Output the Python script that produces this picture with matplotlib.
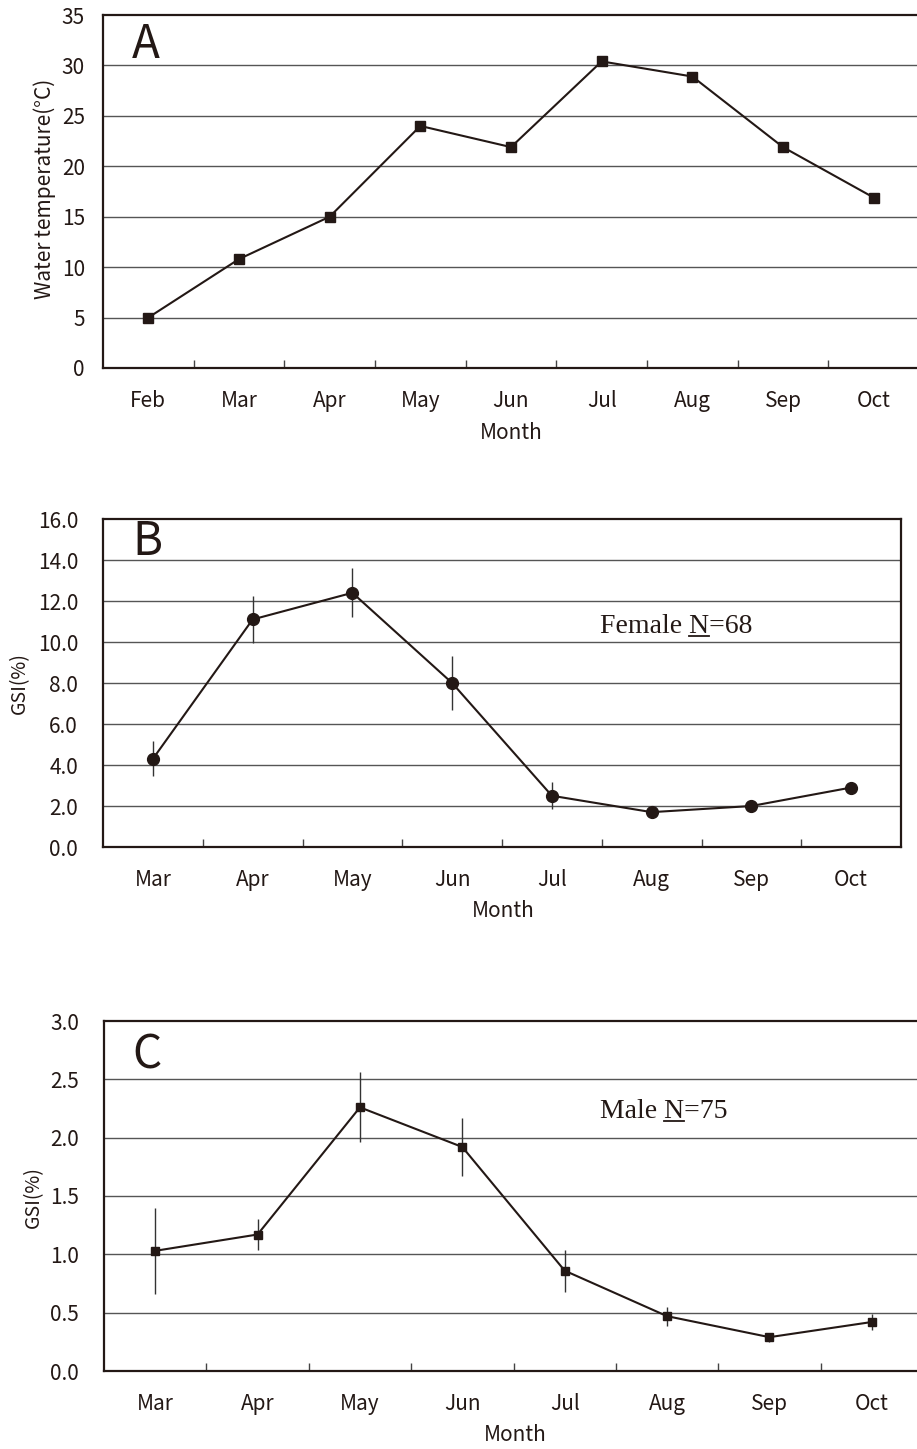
# seasonal water temperature and GSI figure (panels A-C)
import numpy as np
import matplotlib
matplotlib.use('Agg')
from matplotlib import pyplot as plt
from matplotlib.lines import Line2D

# data
months_a = ['Feb', 'Mar', 'Apr', 'May', 'Jun', 'Jul', 'Aug', 'Sep', 'Oct']
water_temp = [5.0, 10.8, 15.0, 24.0, 21.9, 30.4, 28.9, 21.9, 16.9]

months_bc = ['Mar', 'Apr', 'May', 'Jun', 'Jul', 'Aug', 'Sep', 'Oct']
gsi_female = [4.3, 11.1, 12.4, 8.0, 2.5, 1.7, 2.0, 2.9]
gsi_female_err = [0.85, 1.15, 1.2, 1.3, 0.65, 0.2, 0.2, 0.2]
gsi_male = [1.03, 1.17, 2.26, 1.92, 0.86, 0.47, 0.29, 0.42]
gsi_male_err = [0.37, 0.13, 0.30, 0.25, 0.18, 0.08, 0.04, 0.07]

W, H = 917, 1449
INK = '#231815'
GRID = '#555555'
SANS = ['Noto Sans CJK JP', 'DejaVu Sans']
SERIF = 'Liberation Serif'

plt.rcParams['font.family'] = SANS

fig = plt.figure(figsize=(W / 100, H / 100), dpi=100)


def box(l, t, r, b):
    # pixel box -> figure fraction
    return [l / W, 1 - b / H, (r - l) / W, (b - t) / H]


def fx(x):
    return x / W


def fy(y):
    return 1 - y / H


def setup(ax, labels, ymax, ystep, fmt, ypad):
    n = len(labels)
    ax.set_xlim(0, n)
    ax.set_ylim(0, ymax)
    ax.set_xticks(np.arange(1, n))
    ax.set_xticks(np.arange(n) + 0.5, minor=True)
    ax.set_xticklabels([])
    ax.set_xticklabels(labels, minor=True)
    ax.tick_params(axis='x', which='major', direction='in', length=6, width=1.0,
                   color='#444444', labelbottom=False)
    ax.tick_params(axis='x', which='minor', length=0, pad=16, labelsize=15, labelcolor=INK)
    yt = np.arange(0, ymax + ystep / 2, ystep)
    ax.set_yticks(yt)
    ax.set_yticklabels([fmt % v for v in yt])
    ax.tick_params(axis='y', length=0, pad=ypad, labelsize=15, labelcolor=INK)
    for v in yt[1:-1]:
        ax.axhline(v, color=GRID, lw=1.0, zorder=1)
    for s in ax.spines.values():
        s.set_color(INK)
        s.set_linewidth(1.6)


def underlined(x, y, before, und, after, size):
    # text with one underlined piece, x,y in pixels (left, baseline)
    full = before + und + after
    t = fig.text(fx(x), fy(y), full, family=SERIF, fontsize=size, color=INK,
                 ha='left', va='baseline')
    r = fig.canvas.get_renderer()
    m1 = fig.text(0, 0, before + und, family=SERIF, fontsize=size)
    m2 = fig.text(0, 0, und, family=SERIF, fontsize=size)
    w1 = m1.get_window_extent(r).width
    w2 = m2.get_window_extent(r).width
    m1.remove()
    m2.remove()
    fig.add_artist(Line2D([fx(x + w1 - w2), fx(x + w1)], [fy(y + 3), fy(y + 3)],
                          color=INK, lw=1.3, transform=fig.transFigure))
    return t


# A: water temperature
ax1 = fig.add_axes(box(103, 15, 919, 368))
setup(ax1, months_a, 35, 5, '%d', 13)
xa = np.arange(len(months_a)) + 0.5
ax1.plot(xa, water_temp, '-', color=INK, lw=1.5, marker='s', ms=7, mfc=INK, mec=INK, zorder=3)
fig.text(fx(45), fy(189), 'Water temperature(°C)', rotation=90, ha='center', va='center',
         fontsize=15, color=INK)
fig.text(fx(511), fy(433), 'Month', ha='center', va='center', fontsize=15, color=INK)
fig.text(fx(132), fy(45), 'A', ha='left', va='center', fontsize=33, color=INK)

# B: female GSI
ax2 = fig.add_axes(box(103, 519, 901, 847))
setup(ax2, months_bc, 16, 2, '%.1f', 18)
xb = np.arange(len(months_bc)) + 0.5
ax2.errorbar(xb, gsi_female, yerr=gsi_female_err, fmt='none', ecolor='#333333',
             elinewidth=1.0, capsize=0, zorder=2)
ax2.plot(xb, gsi_female, '-', color=INK, lw=1.5, marker='o', ms=8.5, mfc=INK, mec=INK, zorder=3)
fig.text(fx(20), fy(683), 'GSI(%)', rotation=90, ha='center', va='center', fontsize=14, color=INK)
fig.text(fx(503), fy(911), 'Month', ha='center', va='center', fontsize=15, color=INK)
fig.text(fx(132), fy(542), 'B', ha='left', va='center', fontsize=33, color=INK)
underlined(600, 633, 'Female ', 'N', '=68', 20)

# C: male GSI
ax3 = fig.add_axes(box(104, 1021, 923, 1371))
setup(ax3, months_bc, 3.0, 0.5, '%.1f', 18)
ax3.errorbar(xb, gsi_male, yerr=gsi_male_err, fmt='none', ecolor='#333333',
             elinewidth=1.0, capsize=0, zorder=2)
ax3.plot(xb, gsi_male, '-', color=INK, lw=1.5, marker='s', ms=6, mfc=INK, mec=INK, zorder=3)
fig.text(fx(33), fy(1197), 'GSI(%)', rotation=90, ha='center', va='center', fontsize=14, color=INK)
fig.text(fx(515), fy(1435), 'Month', ha='center', va='center', fontsize=15, color=INK)
fig.text(fx(132), fy(1055), 'C', ha='left', va='center', fontsize=33, color=INK)
underlined(600, 1118, 'Male ', 'N', '=75', 20)

fig.savefig('out.png', dpi=100)
